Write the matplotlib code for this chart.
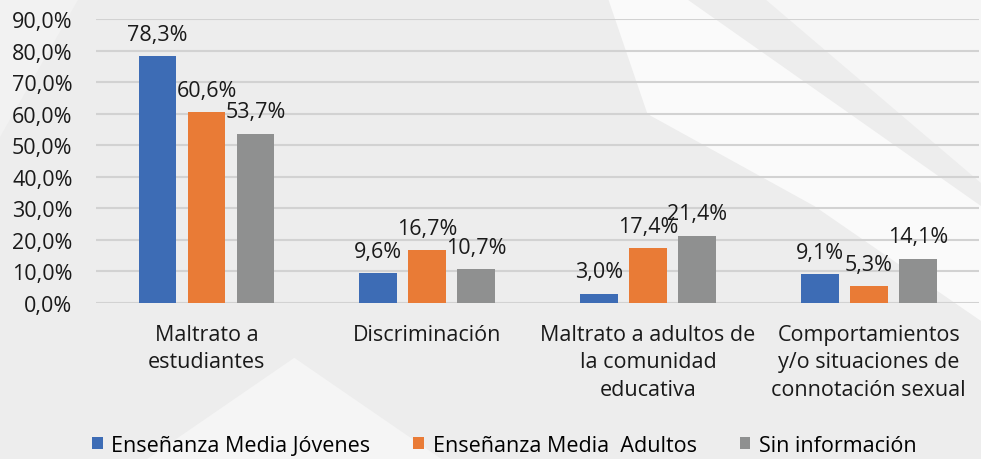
import matplotlib

matplotlib.use("Agg")
import matplotlib.pyplot as plt
import numpy as np
from matplotlib.patches import Polygon

# Data
categories = [
    "Maltrato a\nestudiantes",
    "Discriminación",
    "Maltrato a adultos de\nla comunidad\neducativa",
    "Comportamientos\ny/o situaciones de\nconnotación sexual",
]
series_names = ["Enseñanza Media Jóvenes", "Enseñanza Media  Adultos", "Sin información"]
jovenes = [78.3, 9.6, 3.0, 9.1]
adultos = [60.6, 16.7, 17.4, 5.3]
sin_info = [53.7, 10.7, 21.4, 14.1]
yticks = [0, 10, 20, 30, 40, 50, 60, 70, 80, 90]

COLORS = ["#3D6CB5", "#E97B36", "#8F9090"]
FS = 15.5

plt.rcParams["font.family"] = ["Open Sans", "DejaVu Sans"]

fig = plt.figure(figsize=(9.81, 4.6), dpi=100)
fig.patch.set_facecolor("#EDEDED")

# faint background shapes, on their own axes behind everything
bg = fig.add_axes([0, 0, 1, 1], zorder=-10)
bg.set_xlim(0, 1)
bg.set_ylim(0, 1)
bg.axis("off")
for pts, col in [
    ([(0.62, 1.0), (0.70, 1.0), (1.0, 0.55), (1.0, 0.30), (0.83, 0.55), (0.66, 0.75)], "#FAFAFA"),
    ([(0.78, 1.0), (1.0, 1.0), (1.0, 0.6)], "#F6F6F6"),
    ([(0.15, 0.0), (0.45, 0.0), (0.30, 0.22)], "#F5F5F5"),
    ([(0.0, 0.7), (0.08, 1.0), (0.0, 1.0)], "#F2F2F2"),
]:
    bg.add_patch(Polygon(pts, closed=True, facecolor=col, edgecolor="none"))

ax = fig.add_axes([0.098, 0.339, 0.900, 0.6175])
ax.set_facecolor("none")

x = np.arange(len(categories))
width = 0.172
step = 0.222
for i, (vals, name) in enumerate(zip([jovenes, adultos, sin_info], series_names)):
    bars = ax.bar(x + (i - 1) * step, vals, width, color=COLORS[i], label=name, zorder=3)
    for b, v in zip(bars, vals):
        ax.annotate(f"{v:.1f}%".replace(".", ","),
                    (b.get_x() + b.get_width() / 2, v),
                    xytext=(0, 8), textcoords="offset points",
                    ha="center", va="bottom", fontsize=FS, color="#1a1a1a", zorder=4)

ax.set_xlim(-0.5, len(categories) - 0.5)
ax.set_ylim(0, 90)
ax.set_yticks(yticks)
ax.set_yticklabels([f"{t:.1f}%".replace(".", ",") for t in yticks])
ax.set_xticks(x)
ax.set_xticklabels(categories, linespacing=1.4)
ax.tick_params(axis="y", length=0, pad=17, labelsize=FS, labelcolor="#1a1a1a")
ax.tick_params(axis="x", length=0, pad=15, labelsize=FS, labelcolor="#1a1a1a")
ax.grid(axis="y", color="#D2D2D2", linewidth=1.5, zorder=0)
for s in ax.spines.values():
    s.set_visible(False)

fig.legend(loc="center", bbox_to_anchor=(0.514, 0.03), ncol=3, frameon=False,
           fontsize=FS, handlelength=0.5, handleheight=0.5, handletextpad=0.4,
           columnspacing=2.0)

fig.savefig("out.png", dpi=100, facecolor=fig.get_facecolor())
